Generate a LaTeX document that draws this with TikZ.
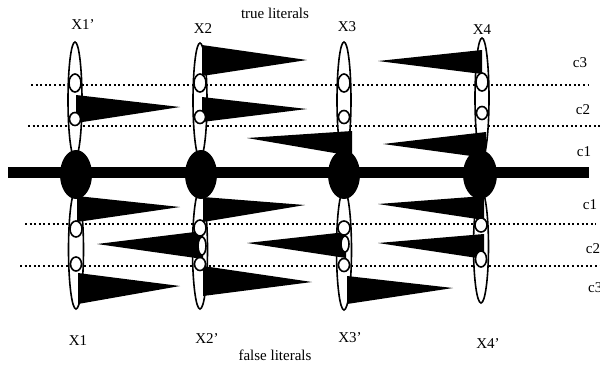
\documentclass[tikz,border=0pt]{standalone}
\usepackage{fontspec}
\setmainfont{Liberation Serif}
\begin{document}
\begin{tikzpicture}[x=1pt,y=-1pt,
  colell/.style={draw=black,fill=white,line width=1.6pt},
  wedge/.style={fill=black,draw=none},
  dotline/.style={line width=1.4pt,dash pattern=on 2pt off 2.6pt},
  lab/.style={font=\fontsize{15}{17}\selectfont,inner sep=0pt}]
\useasboundingbox (0,0) rectangle (600,368);
% dotted clause lines
\draw[dotline] (31,85) -- (589,85);
\draw[dotline] (28,126) -- (600,126);
\draw[dotline] (25,224) -- (596,224);
\draw[dotline] (20,266) -- (600,266);
% column ellipses (top: true literals, bottom: false literals)
\draw[colell] (75,100) ellipse [x radius=7,y radius=58];
\draw[colell] (200,100.5) ellipse [x radius=7,y radius=57.5];
\draw[colell] (344,100) ellipse [x radius=7,y radius=58];
\draw[colell] (482,98) ellipse [x radius=7,y radius=60];
\draw[colell] (76,249.5) ellipse [x radius=7.5,y radius=59.5];
\draw[colell] (200,249.5) ellipse [x radius=7.5,y radius=59.5];
\draw[colell] (344,250) ellipse [x radius=7.5,y radius=60];
\draw[colell] (481,246.5) ellipse [x radius=7.5,y radius=56.5];
% wedges (top half)
\fill[wedge] (76,95) -- (180,107) -- (76,123) -- cycle;
\fill[wedge] (202,45) -- (307,60) -- (202,76) -- cycle;
\fill[wedge] (202,97) -- (307,109) -- (202,122) -- cycle;
\fill[wedge] (352,131) -- (247,138) -- (352,156) -- cycle;
\fill[wedge] (482,50) -- (378,61) -- (482,74) -- cycle;
\fill[wedge] (486,132) -- (383,144) -- (486,158) -- cycle;
% wedges (bottom half)
\fill[wedge] (77,196) -- (180,207) -- (77,222) -- cycle;
\fill[wedge] (78,273) -- (180,286) -- (78,304) -- cycle;
\fill[wedge] (203,197) -- (305,205) -- (203,222) -- cycle;
\fill[wedge] (203,231) -- (97,244) -- (203,259) -- cycle;
\fill[wedge] (203,266) -- (312,282) -- (203,296) -- cycle;
\fill[wedge] (346,232) -- (247,243) -- (346,258) -- cycle;
\fill[wedge] (347,276) -- (453,288) -- (347,304) -- cycle;
\fill[wedge] (484,196) -- (378,204) -- (484,220) -- cycle;
\fill[wedge] (484,234) -- (378,243) -- (484,259) -- cycle;
% small link ellipses
\draw[colell] (75,83) ellipse [x radius=6,y radius=9];
\draw[colell] (75,119) ellipse [x radius=5.5,y radius=6.5];
\draw[colell] (200,83) ellipse [x radius=6,y radius=9];
\draw[colell] (200,117) ellipse [x radius=5.5,y radius=6.5];
\draw[colell] (344,83) ellipse [x radius=6,y radius=9];
\draw[colell] (344,117) ellipse [x radius=5.5,y radius=6.5];
\draw[colell] (482,82) ellipse [x radius=6,y radius=9];
\draw[colell] (482,113) ellipse [x radius=5.5,y radius=6.5];
\draw[colell] (76,229) ellipse [x radius=6,y radius=8];
\draw[colell] (76,264) ellipse [x radius=5.5,y radius=7];
\draw[colell] (200,228) ellipse [x radius=6,y radius=8];
\draw[colell] (202,246) ellipse [x radius=4,y radius=9];
\draw[colell] (200,264) ellipse [x radius=5.5,y radius=6.5];
\draw[colell] (344,228) ellipse [x radius=6,y radius=7];
\draw[colell] (345,244) ellipse [x radius=4,y radius=8];
\draw[colell] (344,265) ellipse [x radius=5.5,y radius=6.5];
\draw[colell] (481,225) ellipse [x radius=6,y radius=7];
\draw[colell] (481,259) ellipse [x radius=5.5,y radius=8];
% central bar and variable blobs
\fill[black] (8,167) rectangle (589,178);
\fill[black] (76,174.5) ellipse [x radius=16,y radius=24.5];
\fill[black] (201,174.5) ellipse [x radius=16,y radius=24.5];
\fill[black] (344,174.5) ellipse [x radius=16,y radius=24.5];
\fill[black] (480,174.5) ellipse [x radius=17,y radius=24.5];
% labels
\node[lab] (tl) at (275,13) {true literals};
\node[lab] (fl) at (275,355) {false literals};
\node[lab] (x1p) at (83,25) {X1'};
\node[lab] (x2) at (203,29) {X2};
\node[lab] (x3) at (347,27) {X3};
\node[lab] (x4) at (482,30) {X4};
\node[lab] (x1) at (78,341) {X1};
\node[lab] (x2p) at (207,339) {X2'};
\node[lab] (x3p) at (350,338) {X3'};
\node[lab] (x4p) at (488,344) {X4'};
\node[lab] (c3t) at (580,63) {c3};
\node[lab] (c2t) at (583,110) {c2};
\node[lab] (c1t) at (584,152) {c1};
\node[lab] (c1b) at (590,205) {c1};
\node[lab] (c2b) at (593,249) {c2};
\node[lab,anchor=west] (c3b) at (588,288) {c3};
\end{tikzpicture}
\end{document}
